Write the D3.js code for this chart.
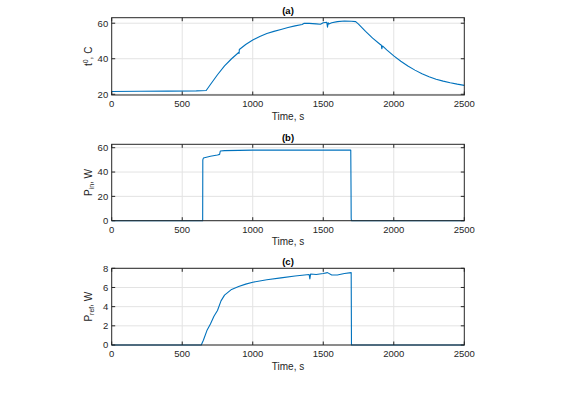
<!DOCTYPE html>
<html>
<head>
<meta charset="utf-8">
<script src="https://cdn.jsdelivr.net/npm/d3@7"></script>
<style>
  body { margin: 0; background: #fff; }
  svg { display: block; font-family: "Liberation Sans", Arial, sans-serif; }
</style>
</head>
<body>
<div id="chart"></div>
<script>
// Panel (a): temperature, C
const tempTime = [0, 200, 400, 600, 670, 700, 750, 800, 850, 900, 903, 905, 950, 1000, 1050, 1100, 1150, 1200, 1250, 1300, 1350, 1365, 1400, 1450, 1480, 1500, 1525, 1530, 1535, 1540, 1560, 1600, 1650, 1700, 1730, 1750, 1800, 1850, 1900, 1912, 1915, 1920, 1950, 2000, 2050, 2100, 2150, 2200, 2250, 2300, 2350, 2400, 2450, 2500];
const tempVals = [21.6, 21.7, 21.8, 21.9, 22.1, 25.5, 31, 36, 40, 43.5, 43, 45.2, 48, 50.5, 52.5, 54.2, 55.4, 56.5, 57.6, 58.5, 59.3, 60, 59.9, 59.6, 59.4, 60.3, 60.5, 57.8, 60.2, 59.6, 60.3, 60.9, 61.2, 61.1, 60.9, 59.5, 55.4, 51.6, 48.3, 47.6, 45.6, 47.2, 45, 41.6, 38.6, 35.9, 33.6, 31.6, 29.9, 28.5, 27.4, 26.5, 25.7, 25];

// Panel (b): input power, W
const pinTime = [0, 645, 646, 650, 700, 750, 765, 770, 800, 900, 1000, 1200, 1400, 1600, 1695, 1697, 1698, 1700, 2500];
const pinVals = [0, 0, 50, 51.5, 53, 54, 54.5, 57.3, 57.6, 57.8, 58, 58, 58, 58, 58, 24, 2, 0, 0];

// Panel (c): reflected power, W
const prefTime = [0, 635, 650, 675, 700, 725, 750, 775, 800, 850, 900, 950, 1000, 1100, 1200, 1300, 1400, 1405, 1410, 1450, 1500, 1530, 1560, 1600, 1650, 1698, 1700, 2500];
const prefVals = [0, 0, 0.5, 1.5, 2.2, 3.0, 3.6, 4.6, 5.2, 5.8, 6.1, 6.35, 6.55, 6.8, 7.0, 7.2, 7.35, 6.9, 7.4, 7.35, 7.45, 7.55, 7.3, 7.3, 7.45, 7.55, 0, 0];

const xTicks = [0, 500, 1000, 1500, 2000, 2500];
const tempTicks = [20, 40, 60];
const pinTicks = [0, 20, 40, 60];
const prefTicks = [0, 2, 4, 6, 8];

const W = 573, H = 397;
const left = 111.7, right = 464.3;
const blue = '#0072BD';

const panels = [
  { title: '(a)', t: tempTime, v: tempVals, yTicks: tempTicks, yDom: [19.6, 63.1], top: 17.7, bottom: 95,
    label: ['t', '0', ', C'], shift: -3.5 },
  { title: '(b)', t: pinTime, v: pinVals, yTicks: pinTicks, yDom: [0, 62.8], top: 144.3, bottom: 220.7,
    label: ['P', 'in', ', W'], shift: 2.5 },
  { title: '(c)', t: prefTime, v: prefVals, yTicks: prefTicks, yDom: [0, 8], top: 268.3, bottom: 345,
    label: ['P', 'ref', ', W'], shift: 2.5 }
];

const svg = d3.select('#chart').append('svg')
  .attr('width', W)
  .attr('height', H);

const x = d3.scaleLinear().domain([0, 2500]).range([left, right]);

panels.forEach(p => {
  const y = d3.scaleLinear().domain(p.yDom).range([p.bottom, p.top]);
  const g = svg.append('g');

  // grid
  g.selectAll('.gx').data(xTicks.slice(1, -1)).enter().append('line')
    .attr('x1', d => x(d)).attr('x2', d => x(d))
    .attr('y1', p.top).attr('y2', p.bottom)
    .attr('stroke', '#e3e3e3').attr('stroke-width', 1);
  g.selectAll('.gy').data(p.yTicks).enter().append('line')
    .attr('x1', left).attr('x2', right)
    .attr('y1', d => y(d)).attr('y2', d => y(d))
    .attr('stroke', '#e3e3e3').attr('stroke-width', 1);

  // data line
  const line = d3.line().x((d, i) => x(p.t[i])).y(d => y(d));
  g.append('path')
    .attr('d', line(p.v))
    .attr('fill', 'none')
    .attr('stroke', blue)
    .attr('stroke-width', 1.1)
    .attr('stroke-linejoin', 'round');

  // box
  g.append('rect')
    .attr('x', left).attr('y', p.top)
    .attr('width', right - left).attr('height', p.bottom - p.top)
    .attr('fill', 'none').attr('stroke', '#262626').attr('stroke-width', 1);

  // ticks inward (all four sides)
  const tl = 3.5;
  xTicks.forEach(d => {
    g.append('line').attr('x1', x(d)).attr('x2', x(d)).attr('y1', p.bottom).attr('y2', p.bottom - tl).attr('stroke', '#262626');
    g.append('line').attr('x1', x(d)).attr('x2', x(d)).attr('y1', p.top).attr('y2', p.top + tl).attr('stroke', '#262626');
  });
  p.yTicks.forEach(d => {
    g.append('line').attr('x1', left).attr('x2', left + tl).attr('y1', y(d)).attr('y2', y(d)).attr('stroke', '#262626');
    g.append('line').attr('x1', right).attr('x2', right - tl).attr('y1', y(d)).attr('y2', y(d)).attr('stroke', '#262626');
  });

  // tick labels
  g.selectAll('.xl').data(xTicks).enter().append('text')
    .attr('x', d => x(d)).attr('y', p.bottom + 12)
    .attr('text-anchor', 'middle')
    .style('font-size', '9.5px').style('fill', '#262626')
    .text(d => d);
  g.selectAll('.yl').data(p.yTicks).enter().append('text')
    .attr('x', left - 3.5).attr('y', d => y(d) + 3.3)
    .attr('text-anchor', 'end')
    .style('font-size', '9.5px').style('fill', '#262626')
    .text(d => d);

  // title
  g.append('text')
    .attr('x', (left + right) / 2).attr('y', p.top - 3.5)
    .attr('text-anchor', 'middle')
    .style('font-size', '9.5px').style('font-weight', 'bold').style('fill', '#000')
    .text(p.title);

  // x label
  g.append('text')
    .attr('x', (left + right) / 2).attr('y', p.bottom + 24.5)
    .attr('text-anchor', 'middle')
    .style('font-size', '10px').style('fill', '#262626')
    .text('Time, s');

  // y label with sub/superscript
  const cy = (p.top + p.bottom) / 2;
  const yl = g.append('text')
    .attr('transform', 'translate(' + (left - 20) + ',' + cy + ') rotate(-90)')
    .attr('text-anchor', 'middle')
    .style('font-size', '10px').style('fill', '#262626');
  yl.append('tspan').text(p.label[0]);
  yl.append('tspan').attr('dy', p.shift).style('font-size', '7px').text(p.label[1]);
  yl.append('tspan').attr('dy', -p.shift).text(p.label[2]);
});
</script>
</body>
</html>
